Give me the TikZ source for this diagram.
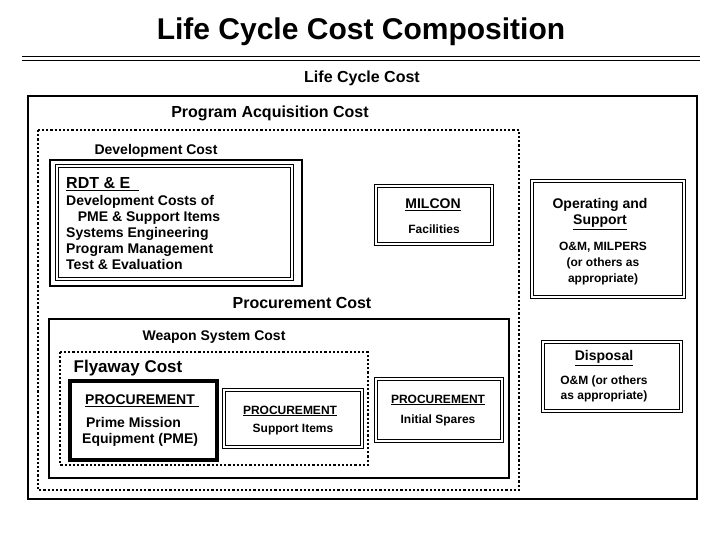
\documentclass[tikz,border=0pt]{standalone}
\usepackage{fontspec}
\setmainfont{Liberation Sans}
\usepackage{tikz}
\usetikzlibrary{positioning}

\begin{document}
\begin{tikzpicture}[x=1pt, y=-1pt,
txt/.style={font=\bfseries\fontsize{14}{16}\selectfont, inner sep=0pt, align=center},
bigtxt/.style={font=\bfseries\fontsize{16}{18}\selectfont, inner sep=0pt},
frame/.style={draw=black, line width=2pt},
dotframe/.style={draw=black, line width=2.2pt, dotted},
dblbox/.style={draw=black, double, double distance=2.2pt, line width=0.8pt}
]
\useasboundingbox (0,0) rectangle (720,540);
%Title
\node[font=\bfseries\fontsize{30}{34}\selectfont, inner sep=0pt] (title) at (361,32) {Life Cycle Cost Composition};
\draw[line width=0.8pt] (22,56.5) -- (700,56.5);
\draw[line width=0.8pt] (22,60) -- (700,60);
%Frames
\node[bigtxt] (lcc) at (362,78) {Life Cycle Cost};
\draw[frame] (28,96) rectangle (697,499);
\node[bigtxt] (pac) at (270,113) {Program Acquisition Cost};
\draw[dotframe] (38,130) rectangle (519,490);
\node[txt] (devc) at (156,151) {Development Cost};
\draw[frame] (50,160) rectangle (302,286);
\draw[dblbox] (57,166) rectangle (292,279);
\node[bigtxt, anchor=west] (rdte) at (66,184) {\underline{RDT \& E\ \ }};
\node[txt, anchor=north west, align=left] (devlist) at (66,195)
  {Development Costs of\\\ \ \ PME \& Support Items\\Systems Engineering\\Program Management\\Test \& Evaluation};
%MILCON
\draw[dblbox] (376,186) rectangle (492,244);
\node[txt] (milcon) at (433,205) {\underline{MILCON}};
\node[txt, font=\bfseries\fontsize{12}{14}\selectfont] (fac) at (434,229) {Facilities};
%Operating and Support
\draw[dblbox] (532,181) rectangle (684,297);
\node[txt] (ops) at (600,214) {Operating and\\\underline{Support}};
\node[txt, font=\bfseries\fontsize{12}{16}\selectfont] (omp) at (603,264) {O\&M, MILPERS\\(or others as\\appropriate)};
%Procurement
\node[bigtxt] (proc) at (302,303) {Procurement Cost};
\draw[frame] (49,319) rectangle (509,478);
\node[txt] (wsc) at (214,337) {Weapon System Cost};
\draw[dotframe, line width=1.8pt] (60,352) rectangle (368,465);
\node[bigtxt, font=\bfseries\fontsize{17}{19}\selectfont] (fly) at (128,368) {Flyaway Cost};
\draw[draw=black, line width=4pt] (70,381) rectangle (217,460);
\node[txt] (pme) at (142,401) {\underline{PROCUREMENT\ }};
\node[txt, anchor=north west, align=left] (pmetxt) at (82,417) {\ Prime Mission\\Equipment (PME)};
\draw[dblbox] (224,390) rectangle (362,447);
\node[txt, font=\bfseries\fontsize{12}{14}\selectfont] (supp) at (290,411) {\underline{PROCUREMENT}};
\node[txt, font=\bfseries\fontsize{12}{14}\selectfont] (supptxt) at (293,430) {Support Items};
\draw[dblbox] (376,379) rectangle (502,441);
\node[txt, font=\bfseries\fontsize{12}{14}\selectfont] (spar) at (438,400) {\underline{PROCUREMENT}};
\node[txt, font=\bfseries\fontsize{12}{14}\selectfont] (spartxt) at (438,420) {Initial Spares};
%Disposal
\draw[dblbox] (543,342) rectangle (681,411);
\node[txt] (disp) at (604,358) {\underline{Disposal}};
\node[txt, font=\bfseries\fontsize{12}{15}\selectfont] (disptxt) at (604,389) {O\&M (or others\\as appropriate)};
\end{tikzpicture}
\end{document}
